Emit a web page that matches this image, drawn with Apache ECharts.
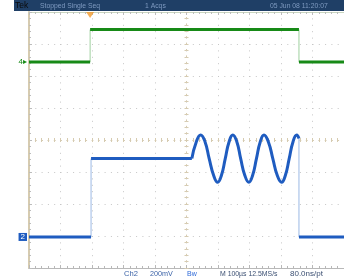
<!DOCTYPE html>
<html><head><meta charset="utf-8">
<script src="https://cdn.jsdelivr.net/npm/echarts@6/dist/echarts.min.js"></script>
<style>html,body{margin:0;padding:0;background:#fff}#c{width:344px;height:280px}</style>
</head><body><div id="c"></div>
<script>
// time in divisions (screen center = 0), level in divisions
const ch4Time  = [-5, -3.06, -3.06, 3.57, 3.57, 5];
const ch4Level = [2.44, 2.44, 3.45, 3.45, 2.44, 2.44];
const ch2StepTime  = [-5, -3.03, -3.03, 0.17];
const ch2StepLevel = [-3.03, -3.03, -0.58, -0.58];
const ch2BurstTime  = [0.17, 0.31, 0.45, 0.59, 0.72, 0.86, 0.99, 1.11, 1.23, 1.35, 1.47, 1.60, 1.72, 1.85, 1.98, 2.10, 2.22, 2.34, 2.46, 2.60, 2.74, 2.88, 3.02, 3.14, 3.26, 3.38, 3.50, 3.57];
const ch2BurstLevel = [-0.58, -0.06, 0.16, -0.06, -0.58, -1.10, -1.32, -1.10, -0.58, -0.06, 0.16, -0.06, -0.58, -1.10, -1.32, -1.10, -0.58, -0.06, 0.16, -0.06, -0.58, -1.10, -1.32, -1.10, -0.58, -0.06, 0.16, 0.05];
const ch2TailTime  = [3.57, 3.57, 5];
const ch2TailLevel = [0.05, -3.03, -3.03];
const triggerTime = [-3.06];
const headerTexts = ['Tek', 'Stopped Single Seq', '1 Acqs', '05 Jun 08 11:20:07'];
const footerTexts = ['Ch2', '200mV', 'Bw', 'M 100\u00b5s 12.5MS/s', '80.0ns/pt'];

function split(t, v) {
  const lev = [], edg = [];
  for (let i = 0; i < t.length - 1; i++) {
    const a = [t[i], v[i]], b = [t[i + 1], v[i + 1]];
    if (t[i] === t[i + 1]) { edg.push(a, b, [null, null]); }
    else { lev.push(a, b, [null, null]); }
  }
  return { lev, edg };
}
const g4 = split(ch4Time, ch4Level);
const s2 = split(ch2StepTime, ch2StepLevel);
const t2 = split(ch2TailTime, ch2TailLevel);
const burst = ch2BurstTime.map((t, i) => [t, ch2BurstLevel[i]]);

const GREEN = '#178a17', BLUE = '#1f5cc0', GRID = '#c6c6c6', BEIGE = '#d6cbb0';
const FONT = '"Liberation Sans", Arial, sans-serif';
const xb = { type: 'value', min: -5, max: 5, interval: 1, axisLabel: { show: false }, splitLine: { show: false } };
const yb = { type: 'value', min: -4, max: 4, interval: 1, axisLabel: { show: false }, splitLine: { show: false } };
const chart = echarts.init(document.getElementById('c'), null, { renderer: 'canvas' });
const lvlLabel = (txt, col, box) => ({ show: true, position: 'left', distance: 2, formatter: txt, color: box ? '#fff' : col, backgroundColor: box ? col : 'transparent', padding: box ? [0, 2] : 0, fontSize: 8, fontFamily: 'Liberation Sans' });
function txt(x, y, s, fill, size, sx) {
  return { type: 'text', x: x, y: y, scaleX: sx, scaleY: 1, style: { text: s, fill: fill, font: size + 'px ' + FONT, verticalAlign: 'middle' } };
}
chart.setOption({
  animation: false,
  grid: { left: 29, top: 12, right: 0, bottom: 12, containLabel: false },
  xAxis: [
    Object.assign({}, xb, { position: 'bottom', axisLine: { onZero: false, lineStyle: { color: '#b8b8b8' } }, axisTick: { inside: true, length: 3, lineStyle: { color: '#b8b8b8' } }, minorTick: { show: true, splitNumber: 5, length: 2, lineStyle: { color: '#b8b8b8' } }, splitLine: { show: true, lineStyle: { color: GRID, type: [1, 5.4] } } }),
    Object.assign({}, xb, { position: 'top', axisLine: { onZero: false, lineStyle: { color: '#c9d6bf' } }, axisTick: { inside: true, length: 3, lineStyle: { color: '#bcbcbc' } }, minorTick: { show: true, splitNumber: 5, length: 2, lineStyle: { color: '#bcbcbc' } } }),
    Object.assign({}, xb, { position: 'bottom', axisLine: { onZero: true, lineStyle: { color: BEIGE, type: [1, 5.3], width: 1 } }, axisTick: { inside: true, length: 2, lineStyle: { color: BEIGE } }, minorTick: { show: true, splitNumber: 5, length: 2, lineStyle: { color: BEIGE } } }),
    Object.assign({}, xb, { position: 'bottom', axisLine: { onZero: true, show: false }, axisTick: { inside: false, length: 2, lineStyle: { color: BEIGE } }, minorTick: { show: true, splitNumber: 5, length: 2, lineStyle: { color: BEIGE } } })
  ],
  yAxis: [
    Object.assign({}, yb, { position: 'left', axisLine: { onZero: false, lineStyle: { color: BEIGE, width: 2 } }, axisTick: { inside: true, length: 3, lineStyle: { color: '#bcbcbc' } }, minorTick: { show: true, splitNumber: 5, length: 2, lineStyle: { color: '#bcbcbc' } }, splitLine: { show: true, lineStyle: { color: GRID, type: [1, 5.3] } } }),
    Object.assign({}, yb, { position: 'left', axisLine: { onZero: true, lineStyle: { color: BEIGE, type: [1, 5.4] } }, axisTick: { inside: true, length: 2, lineStyle: { color: BEIGE } }, minorTick: { show: true, splitNumber: 5, length: 2, lineStyle: { color: BEIGE } } }),
    Object.assign({}, yb, { position: 'left', axisLine: { onZero: true, show: false }, axisTick: { inside: false, length: 2, lineStyle: { color: BEIGE } }, minorTick: { show: true, splitNumber: 5, length: 2, lineStyle: { color: BEIGE } } })
  ],
  series: [
    { type: 'line', data: g4.edg, showSymbol: false, connectNulls: false, lineStyle: { color: '#9fd09f', width: 1 } },
    { type: 'line', data: g4.lev, showSymbol: false, connectNulls: false, lineStyle: { color: GREEN, width: 3 },
      markPoint: { symbol: 'circle', symbolSize: 0, data: [{ coord: [ch4Time[0], ch4Level[0]], label: lvlLabel('4\u25b8', GREEN, false) }] } },
    { type: 'line', data: s2.edg.concat(t2.edg), showSymbol: false, connectNulls: false, lineStyle: { color: '#9bb8e4', width: 1 } },
    { type: 'line', data: s2.lev.concat(t2.lev), showSymbol: false, connectNulls: false, lineStyle: { color: BLUE, width: 3 },
      markPoint: { symbol: 'circle', symbolSize: 0, data: [{ coord: [ch2StepTime[0], ch2StepLevel[0]], label: lvlLabel('2', BLUE, true) }] } },
    { type: 'line', data: burst, smooth: true, showSymbol: false, lineStyle: { color: BLUE, width: 3 } },
    { type: 'scatter', data: triggerTime.map(t => [t, 4]), symbol: 'triangle', symbolRotate: 180, symbolSize: [8, 6], symbolOffset: [0, 3], itemStyle: { color: '#f39a2c' }, z: 5 }
  ],
  graphic: [
    { type: 'rect', shape: { x: 14, y: 0, width: 330, height: 11 }, style: { fill: '#1f3f66' } },
    txt(15, 5.5, headerTexts[0], '#0b0b0b', 9, 0.95),
    txt(40, 5.5, headerTexts[1], '#7f9ac0', 8, 0.85),
    txt(145, 5.5, headerTexts[2], '#7f9ac0', 8, 0.85),
    txt(270, 5.5, headerTexts[3], '#7f9ac0', 8, 0.85),
    txt(124, 274, footerTexts[0], '#3d64a8', 8, 0.95),
    txt(150, 274, footerTexts[1], '#3d64a8', 8, 0.9),
    txt(187, 274, footerTexts[2], '#2f6ad8', 7, 1),
    txt(220, 274, footerTexts[3], '#3b4f72', 8, 0.86),
    txt(290, 274, footerTexts[4], '#3b4f72', 8, 1)
  ]
});
</script></body></html>
